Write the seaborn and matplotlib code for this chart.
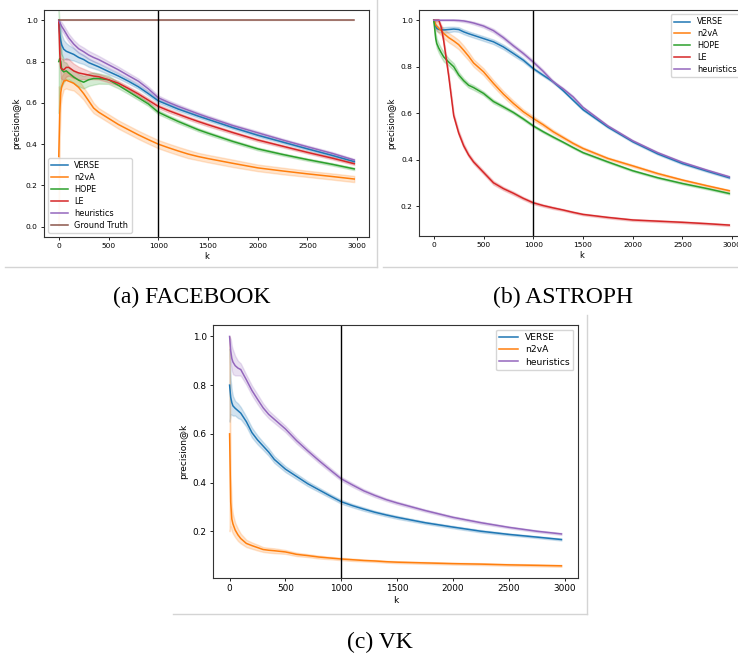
import numpy as np
import pandas as pd
import seaborn as sns
import matplotlib
matplotlib.use("Agg")
from matplotlib import pyplot as plt
from matplotlib.lines import Line2D

# shared k grid for all curves
K = [0, 10, 20, 30, 50, 75, 100, 150, 200, 250, 300, 350, 400, 500, 600, 700,
     800, 900, 1000, 1100, 1200, 1300, 1400, 1500, 1750, 2000, 2250, 2500, 2750, 2970]

# (a) FACEBOOK: mean precision@k and half width of the band
verse_a = [1.0, 0.93, 0.90, 0.88, 0.86, 0.85, 0.845, 0.835, 0.82, 0.81, 0.795, 0.785, 0.775, 0.752, 0.73,
           0.705, 0.678, 0.645, 0.61, 0.59, 0.57, 0.553, 0.536, 0.52, 0.48, 0.443, 0.41, 0.377, 0.345, 0.315]
verse_a_err = [0.0, 0.06, 0.06, 0.05, 0.045, 0.04, 0.035, 0.03, 0.025, 0.022, 0.02, 0.018, 0.016, 0.014, 0.012,
               0.011, 0.01, 0.01, 0.01, 0.009, 0.009, 0.008, 0.008, 0.008, 0.007, 0.007, 0.006, 0.006, 0.006, 0.006]
n2va_a = [0.34, 0.55, 0.65, 0.68, 0.705, 0.71, 0.705, 0.695, 0.675, 0.645, 0.61, 0.575, 0.555, 0.525, 0.495,
          0.47, 0.445, 0.422, 0.40, 0.383, 0.367, 0.352, 0.34, 0.33, 0.307, 0.285, 0.27, 0.256, 0.243, 0.231]
n2va_a_err = [0.34, 0.12, 0.06, 0.05, 0.04, 0.04, 0.04, 0.035, 0.035, 0.03, 0.03, 0.025, 0.02, 0.02, 0.02,
              0.02, 0.02, 0.02, 0.02, 0.02, 0.02, 0.02, 0.018, 0.018, 0.018, 0.016, 0.016, 0.015, 0.015, 0.015]
hope_a = [0.80, 0.815, 0.80, 0.76, 0.75, 0.755, 0.745, 0.725, 0.71, 0.70, 0.712, 0.718, 0.718, 0.712, 0.685,
          0.655, 0.625, 0.595, 0.555, 0.532, 0.51, 0.49, 0.47, 0.453, 0.413, 0.377, 0.35, 0.325, 0.302, 0.28]
hope_a_err = [0.25, 0.15, 0.12, 0.08, 0.05, 0.04, 0.03, 0.03, 0.03, 0.03, 0.03, 0.03, 0.025, 0.02, 0.015,
              0.012, 0.011, 0.01, 0.01, 0.009, 0.009, 0.008, 0.008, 0.008, 0.007, 0.007, 0.006, 0.006, 0.006, 0.006]
le_a = [1.0, 0.84, 0.77, 0.765, 0.76, 0.772, 0.772, 0.755, 0.745, 0.74, 0.735, 0.73, 0.727, 0.712, 0.695,
        0.67, 0.643, 0.613, 0.583, 0.563, 0.545, 0.527, 0.51, 0.494, 0.456, 0.42, 0.39, 0.36, 0.332, 0.305]
le_a_err = [0.0, 0.05, 0.05, 0.05, 0.05, 0.045, 0.04, 0.035, 0.03, 0.025, 0.02, 0.015, 0.013, 0.012, 0.011,
            0.01, 0.01, 0.01, 0.009, 0.009, 0.008, 0.008, 0.008, 0.008, 0.007, 0.007, 0.006, 0.006, 0.006, 0.006]
heur_a = [1.0, 0.99, 0.98, 0.97, 0.955, 0.935, 0.915, 0.885, 0.862, 0.848, 0.832, 0.82, 0.81, 0.785, 0.76,
          0.732, 0.705, 0.668, 0.625, 0.603, 0.583, 0.565, 0.547, 0.53, 0.49, 0.455, 0.42, 0.387, 0.355, 0.323]
heur_a_err = [0.0, 0.01, 0.015, 0.02, 0.02, 0.02, 0.02, 0.02, 0.02, 0.02, 0.02, 0.02, 0.018, 0.016, 0.015,
              0.014, 0.013, 0.012, 0.011, 0.01, 0.01, 0.009, 0.009, 0.009, 0.008, 0.008, 0.007, 0.007, 0.007, 0.006]
gt_k = [0, 2970]
gt_a = [1.0, 1.0]
gt_a_err = [0.0, 0.0]

# (b) ASTROPH
verse_b = [1.0, 0.985, 0.975, 0.965, 0.96, 0.96, 0.958, 0.96, 0.962, 0.96, 0.95, 0.942, 0.935, 0.921, 0.907,
           0.885, 0.857, 0.828, 0.792, 0.763, 0.735, 0.697, 0.656, 0.615, 0.54, 0.477, 0.425, 0.383, 0.35, 0.322]
verse_b_err = [0.0, 0.01, 0.012, 0.012, 0.012, 0.012, 0.012, 0.012, 0.01, 0.01, 0.01, 0.01, 0.01, 0.01, 0.01,
               0.01, 0.01, 0.008, 0.006, 0.005, 0.005, 0.004, 0.004, 0.004, 0.004, 0.004, 0.004, 0.004, 0.004, 0.004]
n2va_b = [1.0, 0.99, 0.98, 0.975, 0.965, 0.955, 0.943, 0.925, 0.911, 0.895, 0.871, 0.845, 0.816, 0.778, 0.728,
          0.682, 0.642, 0.606, 0.577, 0.55, 0.52, 0.495, 0.47, 0.448, 0.405, 0.373, 0.34, 0.312, 0.287, 0.266]
n2va_b_err = [0.0, 0.01, 0.015, 0.02, 0.02, 0.02, 0.02, 0.02, 0.02, 0.02, 0.02, 0.018, 0.016, 0.015, 0.014,
              0.013, 0.012, 0.01, 0.01, 0.008, 0.008, 0.007, 0.006, 0.006, 0.005, 0.005, 0.005, 0.004, 0.004, 0.004]
hope_b = [1.0, 0.96, 0.92, 0.9, 0.88, 0.86, 0.842, 0.82, 0.8, 0.765, 0.74, 0.72, 0.71, 0.685, 0.65,
          0.627, 0.603, 0.575, 0.545, 0.52, 0.497, 0.475, 0.452, 0.43, 0.39, 0.352, 0.322, 0.297, 0.275, 0.254]
hope_b_err = [0.0, 0.02, 0.02, 0.02, 0.02, 0.02, 0.02, 0.015, 0.015, 0.012, 0.01, 0.01, 0.01, 0.008, 0.008,
              0.007, 0.006, 0.006, 0.005, 0.005, 0.005, 0.004, 0.004, 0.004, 0.004, 0.004, 0.004, 0.004, 0.004, 0.004]
le_b = [1.0, 1.0, 1.0, 1.0, 1.0, 0.97, 0.91, 0.76, 0.59, 0.515, 0.46, 0.42, 0.39, 0.345, 0.30,
        0.275, 0.255, 0.233, 0.214, 0.202, 0.192, 0.183, 0.173, 0.164, 0.151, 0.14, 0.135, 0.13, 0.124, 0.118]
le_b_err = [0.0, 0.005, 0.005, 0.005, 0.005, 0.01, 0.01, 0.01, 0.01, 0.01, 0.01, 0.008, 0.008, 0.008, 0.008,
            0.007, 0.007, 0.006, 0.006, 0.005, 0.005, 0.004, 0.004, 0.004, 0.004, 0.004, 0.004, 0.004, 0.004, 0.004]
heur_b = [1.0, 1.0, 1.0, 1.0, 1.0, 1.0, 1.0, 1.0, 1.0, 0.999, 0.997, 0.993, 0.988, 0.975, 0.955,
          0.925, 0.89, 0.857, 0.82, 0.78, 0.735, 0.705, 0.67, 0.625, 0.545, 0.481, 0.43, 0.388, 0.354, 0.326]
heur_b_err = [0.0, 0.002, 0.002, 0.002, 0.002, 0.002, 0.002, 0.002, 0.003, 0.004, 0.005, 0.005, 0.006, 0.007, 0.008,
              0.008, 0.008, 0.008, 0.008, 0.007, 0.006, 0.005, 0.005, 0.004, 0.004, 0.004, 0.004, 0.004, 0.004, 0.004]

# (c) VK
verse_c = [0.8, 0.75, 0.728, 0.715, 0.705, 0.695, 0.685, 0.65, 0.605, 0.575, 0.55, 0.525, 0.495, 0.455, 0.425,
           0.395, 0.37, 0.345, 0.321, 0.305, 0.291, 0.278, 0.267, 0.257, 0.235, 0.217, 0.2, 0.187, 0.176, 0.166]
verse_c_err = [0.15, 0.07, 0.05, 0.04, 0.03, 0.03, 0.025, 0.02, 0.02, 0.018, 0.016, 0.015, 0.014, 0.012, 0.011,
               0.01, 0.009, 0.008, 0.008, 0.007, 0.007, 0.006, 0.006, 0.006, 0.005, 0.005, 0.005, 0.004, 0.004, 0.004]
n2va_c = [0.6, 0.32, 0.25, 0.23, 0.205, 0.185, 0.17, 0.15, 0.141, 0.133, 0.125, 0.122, 0.12, 0.115, 0.105,
          0.1, 0.094, 0.09, 0.086, 0.083, 0.08, 0.078, 0.075, 0.073, 0.07, 0.067, 0.065, 0.062, 0.06, 0.058]
n2va_c_err = [0.4, 0.1, 0.05, 0.04, 0.03, 0.025, 0.02, 0.015, 0.013, 0.012, 0.01, 0.01, 0.01, 0.008, 0.007,
              0.006, 0.006, 0.005, 0.005, 0.005, 0.004, 0.004, 0.004, 0.004, 0.004, 0.004, 0.004, 0.004, 0.004, 0.004]
heur_c = [1.0, 0.94, 0.91, 0.895, 0.88, 0.87, 0.864, 0.822, 0.778, 0.742, 0.707, 0.68, 0.66, 0.62, 0.572,
          0.53, 0.49, 0.452, 0.415, 0.39, 0.366, 0.347, 0.33, 0.316, 0.285, 0.257, 0.235, 0.216, 0.2, 0.189]
heur_c_err = [0.0, 0.05, 0.05, 0.05, 0.04, 0.03, 0.025, 0.02, 0.02, 0.02, 0.018, 0.016, 0.015, 0.013, 0.012,
              0.01, 0.01, 0.009, 0.008, 0.008, 0.007, 0.007, 0.006, 0.006, 0.005, 0.005, 0.005, 0.004, 0.004, 0.004]

colors = {"VERSE": "C0", "n2vA": "C1", "HOPE": "C2", "LE": "C3",
          "heuristics": "C4", "Ground Truth": "C5"}

W, H = 738, 658


def long_df(series):
    # two rows per k (mean - err, mean + err): seaborn's mean is the curve, min/max the band
    rows = []
    for name, ks, mean, err in series:
        for k, m, e in zip(ks, mean, err):
            rows.append((name, k, m - e))
            rows.append((name, k, m + e))
    return pd.DataFrame(rows, columns=["method", "k", "precision@k"])


def px_rect(l, t, r, b):
    return [l / W, 1 - b / H, (r - l) / W, (b - t) / H]


def panel(fig, rect, series, ylim, yticks, loc, fs_tick, fs_leg, fs_lab):
    ax = fig.add_axes(rect)
    df = long_df(series)
    order = [s[0] for s in series]
    sns.lineplot(data=df, x="k", y="precision@k", hue="method", hue_order=order,
                 palette=colors, estimator="mean", errorbar=("pi", 100),
                 linewidth=1.1, ax=ax)
    ax.axvline(1000, color="black", linewidth=1.0)
    ax.set_xlim(-148.5, 3118.5)
    ax.set_ylim(*ylim)
    ax.set_xticks([0, 500, 1000, 1500, 2000, 2500, 3000])
    ax.set_yticks(yticks)
    ax.tick_params(labelsize=fs_tick, length=2.5, width=0.6, pad=2)
    ax.set_xlabel("k", fontsize=fs_lab, labelpad=2)
    ax.set_ylabel("precision@k", fontsize=fs_lab, labelpad=3)
    for sp in ax.spines.values():
        sp.set_color("#333333")
        sp.set_linewidth(0.8)
    sns.move_legend(ax, loc, title=None, fontsize=fs_leg, frameon=True,
                    handlelength=2.0, labelspacing=0.35, borderpad=0.4)
    return ax


fig = plt.figure(figsize=(W / 100, H / 100), dpi=100)

panel(fig, px_rect(44, 10, 369, 237),
      [("VERSE", K, verse_a, verse_a_err), ("n2vA", K, n2va_a, n2va_a_err),
       ("HOPE", K, hope_a, hope_a_err), ("LE", K, le_a, le_a_err),
       ("heuristics", K, heur_a, heur_a_err), ("Ground Truth", gt_k, gt_a, gt_a_err)],
      (-0.05, 1.05), [0.0, 0.2, 0.4, 0.6, 0.8, 1.0], "lower left", 5.4, 5.9, 6.0)

panel(fig, px_rect(419, 10, 744, 236),
      [("VERSE", K, verse_b, verse_b_err), ("n2vA", K, n2va_b, n2va_b_err),
       ("HOPE", K, hope_b, hope_b_err), ("LE", K, le_b, le_b_err),
       ("heuristics", K, heur_b, heur_b_err)],
      (0.071, 1.044), [0.2, 0.4, 0.6, 0.8, 1.0], "upper right", 5.4, 5.9, 6.0)

panel(fig, px_rect(213, 325, 578, 578),
      [("VERSE", K, verse_c, verse_c_err), ("n2vA", K, n2va_c, n2va_c_err),
       ("heuristics", K, heur_c, heur_c_err)],
      (0.008, 1.047), [0.2, 0.4, 0.6, 0.8, 1.0], "upper right", 6.4, 6.6, 6.5)

# light frame lines left over from the cropped screenshots
def gray_line(x0, y0, x1, y1):
    fig.add_artist(Line2D([x0 / W, x1 / W], [1 - y0 / H, 1 - y1 / H],
                          transform=fig.transFigure, color="#d4d4d4", linewidth=1.0))

gray_line(5, 267, 377, 267)
gray_line(377, 0, 377, 267)
gray_line(383, 267, 738, 267)
gray_line(173, 614, 587, 614)
gray_line(587, 315, 587, 614)

cap = dict(ha="center", va="center", fontsize=17, family="Liberation Serif")
fig.text(192 / W, 1 - 297 / H, "(a) FACEBOOK", **cap)
fig.text(563 / W, 1 - 297 / H, "(b) ASTROPH", **cap)
fig.text(380 / W, 1 - 642 / H, "(c) VK", **cap)

fig.savefig("out.png", dpi=100)
